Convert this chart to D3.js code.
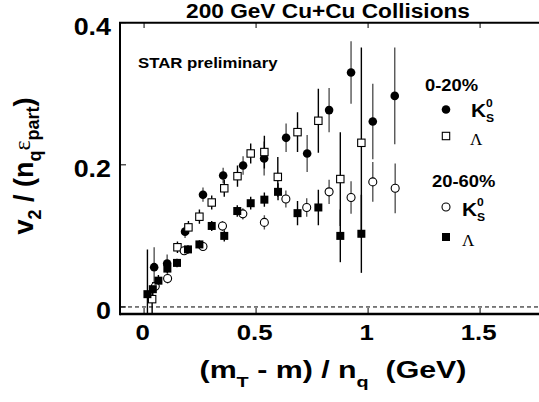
<!DOCTYPE html>
<html><head><meta charset="utf-8">
<script src="https://cdn.jsdelivr.net/npm/d3@7"></script>
<style>html,body{margin:0;padding:0;background:#fff;}svg{display:block;}</style>
</head><body>
<script>
// ---- data ----
const titleText = "200 GeV Cu+Cu Collisions";
const xTicks = [0, 0.5, 1, 1.5];
const xTickLabels = ["0", "0.5", "1", "1.5"];
const yTicks = [0, 0.2, 0.4];
const yTickLabels = ["0", "0.2", "0.4"];

// 0-20% K0S (filled circles)
const k0s020X = [0.045,0.103,0.183,0.263,0.353,0.442,0.536,0.634,0.728,0.826,0.924,1.021,1.119];
const k0s020Y = [0.056,0.061,0.106,0.158,0.185,0.199,0.209,0.238,0.216,0.277,0.330,0.261,0.297];
const k0s020E = [0.028,0.013,0.009,0.010,0.011,0.013,0.024,0.020,0.026,0.031,0.044,0.053,0.068];
// 0-20% Lambda (open squares)
const lam020X = [0.036,0.149,0.198,0.247,0.302,0.358,0.417,0.476,0.537,0.597,0.685,0.778,0.876,0.970];
const lam020Y = [0.011,0.084,0.112,0.127,0.147,0.167,0.184,0.216,0.218,0.183,0.246,0.262,0.180,0.231];
const lam020E = [0.020,0.008,0.009,0.010,0.010,0.012,0.015,0.014,0.023,0.028,0.028,0.045,0.066,0.134];
// 20-60% K0S (open circles)
const k0s2060X = [0.050,0.105,0.179,0.263,0.350,0.441,0.537,0.633,0.726,0.826,0.924,1.021,1.121];
const k0s2060Y = [0.029,0.040,0.079,0.085,0.114,0.131,0.119,0.152,0.140,0.162,0.154,0.176,0.167];
const k0s2060E = [0.008,0.007,0.006,0.006,0.007,0.008,0.010,0.012,0.013,0.017,0.023,0.028,0.035];
// 20-60% Lambda (filled squares)
const lam2060X = [0.015,0.039,0.064,0.104,0.147,0.196,0.247,0.302,0.358,0.416,0.476,0.537,0.598,0.685,0.778,0.876,0.970];
const lam2060Y = [0.018,0.025,0.037,0.054,0.062,0.081,0.088,0.114,0.100,0.135,0.146,0.151,0.162,0.132,0.140,0.100,0.103];
const lam2060E = [0.063,0.010,0.008,0.007,0.006,0.006,0.006,0.007,0.008,0.008,0.009,0.010,0.012,0.017,0.025,0.037,0.055];

const W = 539, H = 402;
const svg = d3.select("body").append("svg").attr("width", W).attr("height", H);

const x = d3.scaleLinear().domain([-0.103, 1.763]).range([121, 539]);
const y = d3.scaleLinear().domain([-0.0099, 0.4]).range([314, 22.7]);

const sans = "'Liberation Sans', Arial, Helvetica, sans-serif";
const serif = "'Liberation Serif', 'Times New Roman', serif";

// text helper: horizontally widened text anchored at (cx, cy)
function stext(parent, cx, cy, anchor, sx, size, weight, family) {
  const g = parent.append("g").attr("transform", `translate(${cx},${cy}) scale(${sx},1)`);
  return g.append("text").attr("x", 0).attr("y", 0).attr("text-anchor", anchor)
    .attr("font-family", family || sans).attr("font-weight", weight || "bold").attr("font-size", size);
}

svg.append("defs").append("clipPath").attr("id", "plotclip")
  .append("rect").attr("x", 121).attr("y", 22.7).attr("width", 418).attr("height", 314 - 22.7);

// dashed zero line
svg.append("line").attr("x1", x.range()[0]).attr("x2", 539)
  .attr("y1", y(0)).attr("y2", y(0))
  .attr("stroke", "#000").attr("stroke-width", 1).attr("stroke-dasharray", "4,3");

const series = [
  {X: k0s020X, Y: k0s020Y, E: k0s020E, shape: "circle", fill: "#000", bar: "#555"},
  {X: lam020X, Y: lam020Y, E: lam020E, shape: "square", fill: "#fff", bar: "#000"},
  {X: k0s2060X, Y: k0s2060Y, E: k0s2060E, shape: "circle", fill: "#fff", bar: "#555"},
  {X: lam2060X, Y: lam2060Y, E: lam2060E, shape: "square", fill: "#000", bar: "#000"}
];

const plot = svg.append("g").attr("clip-path", "url(#plotclip)");
series.forEach(s => {
  const d = s.X.map((v, i) => ({x: v, y: s.Y[i], e: s.E[i]}));
  plot.append("g").selectAll("line").data(d).join("line")
    .attr("x1", p => x(p.x)).attr("x2", p => x(p.x))
    .attr("y1", p => y(p.y - p.e)).attr("y2", p => y(p.y + p.e))
    .attr("stroke", s.bar).attr("stroke-width", 1.4);
});
function drawMarker(g, shape, fill, cx, cy) {
  if (shape === "circle") {
    g.append("circle").attr("cx", cx).attr("cy", cy).attr("r", fill === "#000" ? 4.3 : 4.0)
      .attr("fill", fill).attr("stroke", "#000").attr("stroke-width", fill === "#000" ? 0 : 1.1);
  } else {
    const s = fill === "#000" ? 8 : 7.4;
    g.append("rect").attr("x", cx - s / 2).attr("y", cy - s / 2).attr("width", s).attr("height", s)
      .attr("fill", fill).attr("stroke", "#000").attr("stroke-width", fill === "#000" ? 0 : 1.1);
  }
}
series.forEach(s => {
  const g = plot.append("g");
  s.X.forEach((v, i) => drawMarker(g, s.shape, s.fill, x(v), y(s.Y[i])));
});

// frame
const fr = svg.append("g").attr("stroke", "#000").attr("stroke-width", 2).attr("fill", "none");
fr.append("line").attr("x1", 120).attr("x2", 539).attr("y1", 314).attr("y2", 314).attr("stroke-width", 2.4);
fr.append("line").attr("x1", 120).attr("x2", 120).attr("y1", 22.7).attr("y2", 315.2);
fr.append("line").attr("x1", 119).attr("x2", 539).attr("y1", 22.7).attr("y2", 22.7);
xTicks.forEach(t => {
  fr.append("line").attr("x1", x(t)).attr("x2", x(t)).attr("y1", 313).attr("y2", 308).attr("stroke-width", 1);
  fr.append("line").attr("x1", x(t)).attr("x2", x(t)).attr("y1", 23).attr("y2", 28).attr("stroke-width", 1);
});
yTicks.forEach(t => {
  fr.append("line").attr("x1", 121).attr("x2", 126).attr("y1", y(t)).attr("y2", y(t)).attr("stroke-width", 1);
});

// tick labels
const xl = svg.append("g");
xTicks.forEach((t, i) => stext(xl, x(t) - 1.5, 340, "middle", 1.2, 21.5).text(xTickLabels[i]));
const yl = svg.append("g");
yTicks.forEach((t, i) => stext(yl, 111, y(t) + 12.5, "end", 1.12, 24).text(yTickLabels[i]));

// title
stext(svg, 328, 18, "middle", 1.145, 19.8).text(titleText);

// STAR preliminary
stext(svg, 138, 68, "start", 1.12, 15).text("STAR preliminary");

// x axis title
const xt = stext(svg, 333, 378, "middle", 1.32, 23);
xt.append("tspan").text("(m");
xt.append("tspan").attr("font-size", 15).attr("dy", 9).text("T");
xt.append("tspan").attr("dy", -9).text(" - m) / n");
xt.append("tspan").attr("font-size", 15).attr("dy", 9).text("q");
xt.append("tspan").attr("dy", -9).text("\u00a0\u00a0(GeV)");

// y axis title
const yt = svg.append("text").attr("transform", "translate(33,166) rotate(-90)").attr("text-anchor", "middle")
  .attr("font-family", sans).attr("font-weight", "bold").attr("font-size", 27);
yt.append("tspan").text("v");
yt.append("tspan").attr("font-size", 18).attr("dy", 8).text("2");
yt.append("tspan").attr("dy", -8).text(" / (n");
yt.append("tspan").attr("font-size", 18).attr("dy", 8).text("q");
yt.append("tspan").attr("dy", -11).attr("font-family", serif).attr("font-weight", "normal").attr("font-size", 24).text("\u03b5");
yt.append("tspan").attr("font-size", 18).attr("dy", 9).text("part");
yt.append("tspan").attr("dy", -6).text(")");

// legend
const lg = svg.append("g");
function kLabel(xx, yy) {
  const t = stext(lg, xx, yy, "start", 1.1, 19);
  t.append("tspan").text("K");
  t.append("tspan").attr("font-size", 11).attr("dy", -10).text("0");
  t.append("tspan").attr("font-size", 11).attr("dx", -6.2).attr("dy", 15).text("S");
}
function lamLabel(xx, yy) {
  lg.append("text").attr("x", xx).attr("y", yy).attr("font-family", serif).attr("font-size", 17).text("\u039b");
}
stext(lg, 425, 91, "start", 1.15, 16).text("0-20%");
drawMarker(lg, "circle", "#000", 446, 109.5);
kLabel(471, 117);
drawMarker(lg, "square", "#fff", 446, 136);
lamLabel(470, 145);
stext(lg, 432, 187, "start", 1.15, 16).text("20-60%");
drawMarker(lg, "circle", "#fff", 446, 207);
kLabel(462, 215.5);
drawMarker(lg, "square", "#000", 446, 237);
lamLabel(462, 246);
</script>
</body></html>
